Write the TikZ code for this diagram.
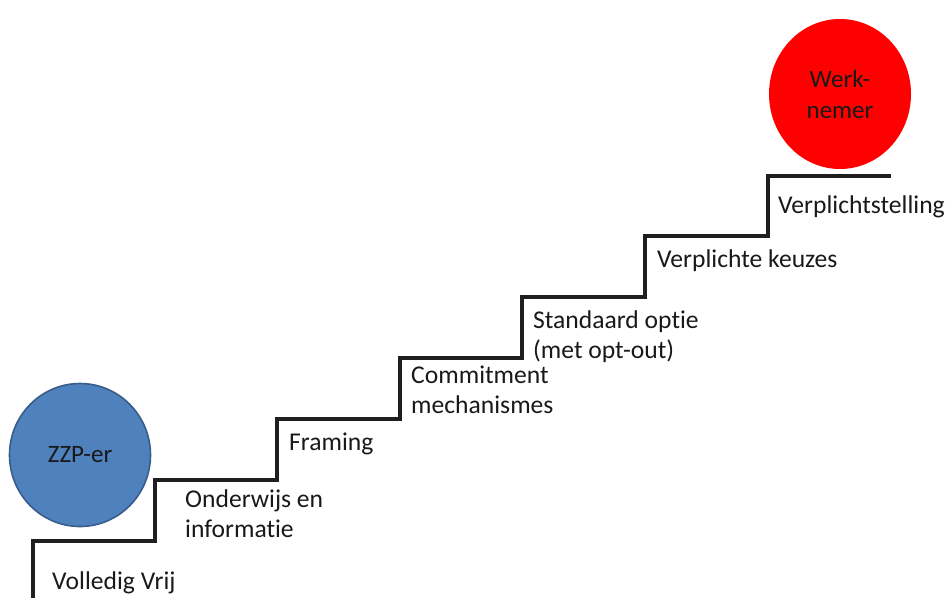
\documentclass[tikz,border=0pt]{standalone}
\usepackage{fontspec}
\setmainfont{Carlito}[RawFeature={-liga}]
\usetikzlibrary{shapes.geometric}
\begin{document}
\begin{tikzpicture}[x=1pt,y=-1pt,
  stair/.style={line width=3.2pt,draw=black!88,line join=miter},
  steplabel/.style={anchor=base west,inner sep=0pt,align=left,font=\fontsize{25.6}{30}\selectfont,text=black!90},
  person/.style={ellipse,inner sep=0pt,align=center,font=\fontsize{25}{31}\selectfont,text=black!90}]
\useasboundingbox (0,0) rectangle (949,597);
% staircase corners
\coordinate (s0) at (33,600);
\coordinate (s1) at (33,541);
\coordinate (s2) at (155,541);
\coordinate (s3) at (155,480);
\coordinate (s4) at (277,480);
\coordinate (s5) at (277,419);
\coordinate (s6) at (400,419);
\coordinate (s7) at (400,358);
\coordinate (s8) at (522,358);
\coordinate (s9) at (522,297);
\coordinate (s10) at (645,297);
\coordinate (s11) at (645,236);
\coordinate (s12) at (768,236);
\coordinate (s13) at (768,176);
\coordinate (s14) at (891,176);
\draw[stair] (s0) -- (s1) -- (s2) -- (s3) -- (s4) -- (s5) -- (s6) -- (s7) -- (s8) -- (s9) -- (s10) -- (s11) -- (s12) -- (s13) -- (s14);
% people
\node[person,fill={rgb,255:red,79;green,129;blue,189},draw={rgb,255:red,56;green,93;blue,138},line width=1.6pt,minimum width=141pt,minimum height=143pt] (zzp) at (80,455) {ZZP-er};
\node[person,fill={rgb,255:red,255;green,0;blue,0},minimum width=142pt,minimum height=150pt] (werk) at (840,94) {Werk-\\nemer};
% labels (base anchor = baseline of last line)
\node[steplabel] (l1) at (52,589) {Volledig Vrij};
\node[steplabel] (l2) at (185,537) {Onderwijs en\\informatie};
\node[steplabel] (l3) at (289,450) {Framing};
\node[steplabel] (l4) at (411,413) {Commitment\\mechanismes};
\node[steplabel] (l5) at (533,358) {Standaard optie\\(met opt-out)};
\node[steplabel] (l6) at (657,267) {Verplichte keuzes};
\node[steplabel] (l7) at (778,213) {Verplichtstelling};
\end{tikzpicture}
\end{document}
